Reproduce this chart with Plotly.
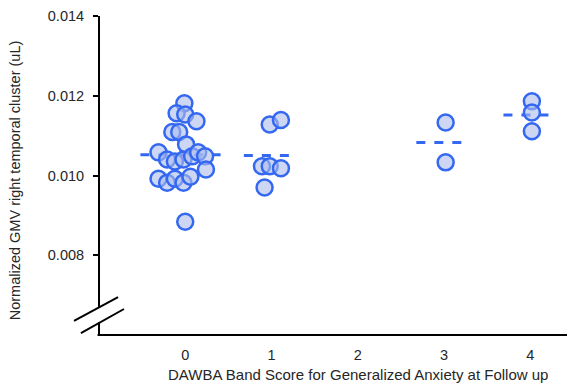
import plotly.graph_objects as go
import numpy as np

# ---- data ----
x_categories = [0, 1, 2, 3, 4]
x_tick_labels = ["0", "1", "2", "3", "4"]
y_tick_values = [0.008, 0.010, 0.012, 0.014]
y_tick_labels = ["0.008", "0.010", "0.012", "0.014"]

g0_x = [-0.01, -0.10, 0.00, 0.13, -0.15, -0.07, 0.01, -0.31, -0.21, -0.12, -0.02,
        0.08, 0.15, 0.23, 0.24, -0.31, -0.21, -0.12, -0.02, 0.06, 0.00]
g0_y = [0.01181, 0.01156, 0.01153, 0.01136, 0.01109, 0.01109, 0.01078, 0.01058,
        0.01040, 0.01035, 0.01040, 0.01048, 0.01058, 0.01048, 0.01015, 0.00992,
        0.00982, 0.00992, 0.00982, 0.00997, 0.00884]
g1_x = [0.98, 1.11, 0.89, 0.98, 1.11, 0.92]
g1_y = [0.01128, 0.01139, 0.01023, 0.01023, 0.01018, 0.00970]
g3_x = [3.02, 3.02]
g3_y = [0.01133, 0.01033]
g4_x = [4.02, 4.02, 4.02]
g4_y = [0.01186, 0.01158, 0.01111]

groups = [(0, g0_x, g0_y), (1, g1_x, g1_y), (3, g3_x, g3_y), (4, g4_x, g4_y)]

# ---- styles ----
EDGE = "#3468f0"
FILL = "rgba(172,188,236,0.6)"
FONT = "Liberation Sans, Arial, sans-serif"
TXT = "#262626"
mean_extent = {0: (-0.52, 0.41), 1: (-0.32, 0.25), 3: (-0.32, 0.24), 4: (-0.31, 0.25)}

fig = go.Figure()

for cat, gx, gy in groups:
    m = float(np.mean(gy))
    lo, hi = mean_extent[cat]
    fig.add_trace(go.Scatter(
        x=[cat + lo, cat + hi], y=[m, m], mode="lines",
        line=dict(color=EDGE, width=3, dash="9px,9px"),
        hoverinfo="skip", showlegend=False))

for cat, gx, gy in groups:
    fig.add_trace(go.Scatter(
        x=gx, y=gy, mode="markers",
        marker=dict(size=16, color=FILL, line=dict(color=EDGE, width=2.5)),
        showlegend=False))

# axis lines with break
shapes = [
    dict(type="line", xref="paper", yref="paper", x0=0, x1=0, y0=1.0, y1=0.088,
         line=dict(color="black", width=2)),
    dict(type="line", xref="paper", yref="paper", x0=0, x1=0, y0=0.04, y1=0.0,
         line=dict(color="black", width=2)),
    dict(type="line", xref="paper", yref="paper", x0=-0.003, x1=1.0, y0=0.0, y1=0.0,
         line=dict(color="black", width=2)),
    dict(type="line", xref="paper", yref="paper", x0=-0.0525, y0=0.044, x1=0.040, y1=0.119,
         line=dict(color="black", width=2)),
    dict(type="line", xref="paper", yref="paper", x0=-0.038, y0=0.006, x1=0.0525, y1=0.0815,
         line=dict(color="black", width=2)),
]

annotations = [
    dict(text="DAWBA Band Score for Generalized Anxiety at Follow up",
         x=2, xref="x", y=-0.125, yref="paper", xanchor="center", yanchor="middle",
         showarrow=False, font=dict(family=FONT, size=15, color=TXT)),
    dict(text="Normalized GMV right temporal cluster (uL)",
         x=0, xref="paper", xshift=-84, y=0.485, yref="paper", showarrow=False,
         textangle=-90, xanchor="center", yanchor="middle",
         font=dict(family=FONT, size=14.5, color=TXT)),
]

# page body has an 8px margin, so the figure is 8px smaller and offset
fig.update_layout(
    width=567, height=379,
    margin=dict(l=91, r=0, t=8, b=52),
    paper_bgcolor="white", plot_bgcolor="white",
    shapes=shapes, annotations=annotations,
    xaxis=dict(range=[-1.0, 4.52], tickvals=x_categories, ticktext=x_tick_labels,
               showgrid=False, zeroline=False, showline=False, ticks="",
               ticklabelstandoff=9,
               tickfont=dict(family=FONT, size=14.5, color=TXT)),
    yaxis=dict(range=[0.006, 0.014], tickvals=y_tick_values, ticktext=y_tick_labels,
               showgrid=False, zeroline=False, showline=False, ticks="outside",
               ticklen=5, tickwidth=2, tickcolor="black", ticklabelstandoff=6,
               automargin=False,
               tickfont=dict(family=FONT, size=14.5, color=TXT)),
)

fig.write_html("out.html")
